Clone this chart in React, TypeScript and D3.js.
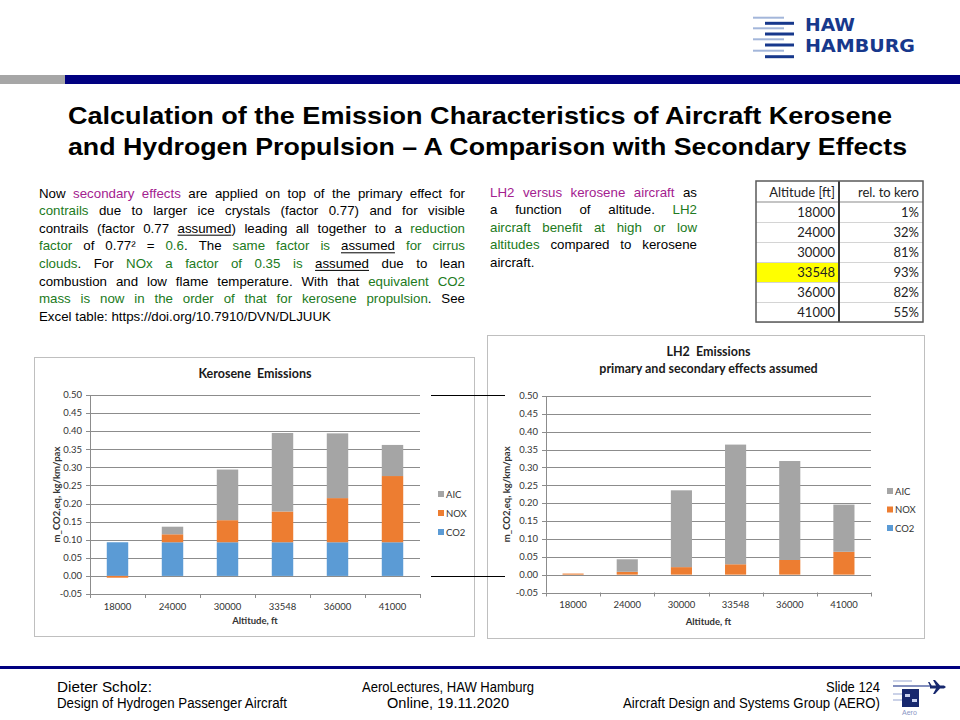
import * as d3 from 'd3'
import React from 'react'

// chart values
const altitudes = ['18000', '24000', '30000', '33548', '36000', '41000']
const keroCO2 = [0.093, 0.093, 0.093, 0.093, 0.093, 0.093]
const keroNOX = [-0.005, 0.022, 0.061, 0.085, 0.122, 0.183]
const keroAIC = [0, 0.021, 0.14, 0.217, 0.179, 0.086]
const lh2CO2 = [0, 0, 0, 0, 0, 0]
const lh2NOX = [0.003, 0.008, 0.021, 0.029, 0.041, 0.064]
const lh2AIC = [0, 0.035, 0.215, 0.335, 0.277, 0.132]
const relToKero = ['1%', '32%', '81%', '93%', '82%', '55%']
const seriesKeys = ['CO2', 'NOX', 'AIC']
const seriesColors: Record<string, string> = { CO2: '#5b9bd5', NOX: '#ed7d31', AIC: '#a5a5a5' }

const NAVY = '#000080'
const PURPLE = '#a3218f'
const GREEN = '#217a21'
const SANS = '"Liberation Sans", Arial, sans-serif'
const CHART_FONT = 'Lato, "Liberation Sans", sans-serif'

type Run = { t: string, c: string, u?: boolean }
const k = (t: string): Run => ({ t, c: '#000' })
const p = (t: string): Run => ({ t, c: PURPLE })
const g = (t: string): Run => ({ t, c: GREEN })
const u = (t: string): Run => ({ t, c: '#000', u: true })

const leftText: Run[][] = [
    [k('Now '), p('secondary effects'), k(' are applied on top of the primary effect for')],
    [g('contrails'), k(' due to larger ice crystals (factor 0.77) and for visible')],
    [k('contrails (factor 0.77 '), u('assumed'), k(') leading all together to a '), g('reduction')],
    [g('factor'), k(' of 0.77² = '), g('0.6'), k('. The '), g('same factor is'), k(' '), u('assumed'), k(' '), g('for cirrus')],
    [g('clouds'), k('. For '), g('NOx a factor of 0.35 is'), k(' '), u('assumed'), k(' due to lean')],
    [k('combustion and low flame temperature. With that '), g('equivalent CO2')],
    [g('mass is now in the order of that for kerosene propulsion'), k('. See')],
    [k('Excel table: https://doi.org/10.7910/DVN/DLJUUK')],
]
const rightText: Run[][] = [
    [p('LH2 versus kerosene aircraft'), k(' as')],
    [k('a function of altitude. '), g('LH2')],
    [g('aircraft benefit at high or low')],
    [g('altitudes'), k(' compared to kerosene')],
    [k('aircraft.')],
]

const ctx = document.createElement('canvas').getContext('2d')!
const measure = (s: string, font: string) => { ctx.font = font; return ctx.measureText(s).width }

function Paragraph({ lines, x, y, width, lh, size }: { lines: Run[][], x: number, y: number, width: number, lh: number, size: number }) {
    const font = `${size}px "Liberation Sans"`
    const out: any[] = []
    lines.forEach((runs, li) => {
        const words: Run[][] = []
        let cur: Run[] = []
        runs.forEach(r => {
            r.t.split(' ').forEach((part, i) => {
                if (i > 0) { if (cur.length) words.push(cur); cur = [] }
                if (part) cur.push({ ...r, t: part })
            })
        })
        if (cur.length) words.push(cur)
        const ww = words.map(w => d3.sum(w, r => measure(r.t, font)))
        const last = li === lines.length - 1
        const gap = last || words.length < 2 ? measure(' ', font) : (width - d3.sum(ww)) / (words.length - 1)
        let xx = x
        const yy = y + li * lh
        words.forEach((w, wi) => {
            w.forEach((r, ri) => {
                const rw = measure(r.t, font)
                out.push(<text key={`${li}-${wi}-${ri}`} x={xx} y={yy} fill={r.c}>{r.t}</text>)
                if (r.u) out.push(<line key={`u${li}-${wi}-${ri}`} x1={xx} x2={xx + rw} y1={yy + 2.5} y2={yy + 2.5} stroke="#000" strokeWidth={1} />)
                xx += rw
            })
            xx += gap
        })
    })
    return <g fontFamily={SANS} fontSize={size}>{out}</g>
}

type Box = { x: number, y: number, w: number, h: number }
type Plot = { l: number, r: number, t: number, b: number }

function yScaleFor(plot: Plot) {
    return d3.scaleLinear().domain([-0.05, 0.5]).range([plot.b, plot.t])
}

function Chart({ box, plot, titles, titleY, co2, nox, aic, legendX, legendY, yLabelX, catY, axisTitleY }: {
    box: Box, plot: Plot, titles: string[], titleY: number[], co2: number[], nox: number[], aic: number[],
    legendX: number, legendY: number[], yLabelX: number, catY: number, axisTitleY: number
}) {
    const x = d3.scaleBand().domain(altitudes).range([plot.l, plot.r])
    const y = yScaleFor(plot)
    const rows = altitudes.map((a, i) => ({ alt: a, CO2: co2[i], NOX: nox[i], AIC: aic[i] }))
    const stacked = d3.stack<any>().keys(seriesKeys).offset(d3.stackOffsetDiverging)(rows)
    const barW = x.bandwidth() * 0.39
    const ticks = y.ticks(11)
    const fmt = (t: number) => (Math.abs(t) < 1e-9 ? 0 : t).toFixed(2)
    const cx = (plot.l + plot.r) / 2
    const boundaries = [...altitudes.map(a => x(a)!), plot.r]
    return (
        <g fontFamily={CHART_FONT}>
            <rect x={box.x + 0.5} y={box.y + 0.5} width={box.w} height={box.h} fill="#fff" stroke="#bfbfbf" />
            {titles.map((t, i) => (
                <text key={t} x={cx} y={titleY[i]} textAnchor="middle" fontSize={12.5} fontWeight="bold" fill="#1a1a1a" style={{ whiteSpace: 'pre' }}>{t}</text>
            ))}
            {ticks.map(t => (
                <g key={t}>
                    <line x1={plot.l - 4} x2={plot.r} y1={Math.round(y(t)) + 0.5} y2={Math.round(y(t)) + 0.5} stroke="#8c8c8c" />
                    <text x={plot.l - 8} y={y(t) + 3.3} textAnchor="end" fontSize={9.5} fill="#333">{fmt(t)}</text>
                </g>
            ))}
            <line x1={plot.l + 0.5} x2={plot.l + 0.5} y1={plot.t} y2={plot.b} stroke="#8c8c8c" />
            {boundaries.map((b, i) => (
                <line key={i} x1={Math.round(b) + 0.5} x2={Math.round(b) + 0.5} y1={plot.b} y2={plot.b + 4} stroke="#8c8c8c" />
            ))}
            {stacked.map(s => (
                <g key={s.key} fill={seriesColors[s.key]}>
                    {s.map((d, i) => {
                        const y0 = y(d[0]), y1 = y(d[1])
                        const h = Math.abs(y0 - y1)
                        if (h <= 0) return null
                        return <rect key={i} x={x(altitudes[i])! + (x.bandwidth() - barW) / 2} y={Math.min(y0, y1)} width={barW} height={h} />
                    })}
                </g>
            ))}
            {altitudes.map(a => (
                <text key={a} x={x(a)! + x.bandwidth() / 2} y={catY} textAnchor="middle" fontSize={9.5} fill="#333">{a}</text>
            ))}
            <text x={cx} y={axisTitleY} textAnchor="middle" fontSize={9.5} fontWeight="bold" fill="#333">Altitude, ft</text>
            <text transform={`translate(${yLabelX},${(plot.t + plot.b) / 2}) rotate(-90)`} textAnchor="middle" fontSize={9.5} fontWeight="bold" fill="#333">m_CO2,eq, kg/km/pax</text>
            {['AIC', 'NOX', 'CO2'].map((s, i) => (
                <g key={s}>
                    <rect x={legendX} y={legendY[i] - 3} width={6} height={6} fill={seriesColors[s]} />
                    <text x={legendX + 8} y={legendY[i] + 3.5} fontSize={9.5} fill="#333">{s}</text>
                </g>
            ))}
        </g>
    )
}

function Table() {
    const x0 = 756, x1 = 839, x2 = 923, y0 = 181, hh = 21, rh = 20
    const y1 = y0 + hh + altitudes.length * rh
    return (
        <g fontFamily={CHART_FONT} fontSize={13} fill="#222">
            <rect x={x0} y={y0 + hh + 3 * rh} width={x1 - x0} height={rh} fill="#ffff00" />
            {altitudes.map((a, i) => (
                <g key={a}>
                    <line x1={x0} x2={x2} y1={y0 + hh + (i + 1) * rh + 0.5} y2={y0 + hh + (i + 1) * rh + 0.5} stroke="#d4d4d4" />
                    <text x={x1 - 4} y={y0 + hh + i * rh + 15} textAnchor="end">{a}</text>
                    <text x={x2 - 4} y={y0 + hh + i * rh + 15} textAnchor="end">{relToKero[i]}</text>
                </g>
            ))}
            <line x1={x0} x2={x2} y1={y0 + hh} y2={y0 + hh} stroke="#8a8a8a" strokeWidth={1.2} />
            <text x={x1 - 4} y={y0 + 15.5} textAnchor="end">Altitude [ft]</text>
            <text x={x2 - 4} y={y0 + 15.5} textAnchor="end">rel. to kero</text>
            <line x1={x1} x2={x1} y1={y0} y2={y1} stroke="#3a3a3a" strokeWidth={2} />
            <rect x={x0} y={y0} width={x2 - x0} height={y1 - y0} fill="none" stroke="#5a5a5a" strokeWidth={1.5} />
        </g>
    )
}

function HawLogo() {
    const light = [17.7, 28.3, 39.3, 50.7]
    const dark = [23.3, 34, 45, 56.7]
    return (
        <g>
            {light.map(v => <line key={v} x1={753} x2={784} y1={v} y2={v} stroke="#a3b6da" strokeWidth={2} />)}
            {dark.map(v => <line key={v} x1={765} x2={794} y1={v} y2={v} stroke="#17388c" strokeWidth={3} />)}
            <g fontFamily='"DejaVu Sans", sans-serif' fontWeight="bold" fontSize={18} fill="#17388c">
                <text x={805} y={31} textLength={50} lengthAdjust="spacingAndGlyphs">HAW</text>
                <text x={805} y={52} textLength={110} lengthAdjust="spacingAndGlyphs">HAMBURG</text>
            </g>
        </g>
    )
}

function AeroLogo() {
    return (
        <g>
            {[681, 686, 694, 700].map((v, i) => (
                <line key={v} x1={893} x2={i === 1 ? 930 : 912} y1={v} y2={v} stroke={i === 1 ? '#5a6aa8' : '#a8b4d8'} strokeWidth={i === 1 ? 1.5 : 1.2} />
            ))}
            <rect x={902} y={689} width={17} height={18} fill="#17286e" />
            <rect x={905} y={694} width={5} height={3} fill="#c8d0ee" />
            <rect x={912} y={699} width={5} height={3} fill="#c8d0ee" />
            <path d="M930,685.5 L944,685.5 L946,687 L944,688.5 L930,688.5 Z M936,685.5 L933,680 L935,680 L940,685.5 Z M936,688.5 L933,694 L935,694 L940,688.5 Z M930,686 L928,682 L929.5,682 L932,686 Z" fill="#17286e" />
            <text x={902} y={715} fontFamily={SANS} fontSize={7} fill="#8a96c4">Aero</text>
        </g>
    )
}

export default function App() {
    const leftPlot = { l: 90, r: 420, t: 395, b: 594 }
    const rightPlot = { l: 546, r: 871, t: 396, b: 592.5 }
    const yl = yScaleFor(leftPlot)
    return (
        <svg width={960} height={720} viewBox="0 0 960 720" style={{ position: 'absolute', left: 0, top: 0, display: 'block', background: '#fff' }}>
            <rect width={960} height={720} fill="#fff" />
            <HawLogo />
            <rect x={0} y={75} width={65} height={9} fill="#a6a6a6" />
            <rect x={65} y={75} width={895} height={9} fill={NAVY} />
            <g fontFamily={SANS} fontWeight="bold" fontSize={24} fill="#000">
                <text x={68} y={124} textLength={824} lengthAdjust="spacingAndGlyphs">Calculation of the Emission Characteristics of Aircraft Kerosene</text>
                <text x={68} y={155} textLength={839} lengthAdjust="spacingAndGlyphs">and Hydrogen Propulsion – A Comparison with Secondary Effects</text>
            </g>
            <Paragraph lines={leftText} x={39} y={197.5} width={426} lh={17.6} size={13.3} />
            <Paragraph lines={rightText} x={490} y={196.7} width={207} lh={17.5} size={13.3} />
            <Table />
            <Chart box={{ x: 34, y: 357, w: 440, h: 279 }} plot={leftPlot} titles={['Kerosene  Emissions']} titleY={[378]}
                co2={keroCO2} nox={keroNOX} aic={keroAIC} legendX={438} legendY={[494, 513, 532]} yLabelX={60} catY={610} axisTitleY={624} />
            <Chart box={{ x: 487, y: 335, w: 437, h: 303 }} plot={rightPlot} titles={['LH2  Emissions', 'primary and secondary effects assumed']} titleY={[356, 373]}
                co2={lh2CO2} nox={lh2NOX} aic={lh2AIC} legendX={887} legendY={[491, 509.5, 528]} yLabelX={510} catY={608} axisTitleY={625} />
            {[0.5, 0].map(v => (
                <line key={v} x1={431} x2={505} y1={Math.round(yl(v)) + 0.5} y2={Math.round(yl(v)) + 0.5} stroke="#000" />
            ))}
            <rect x={0} y={666} width={960} height={3} fill={NAVY} />
            <g fontFamily='"Liberation Sans Narrow", "Liberation Sans", sans-serif' fontSize={14} fill="#000">
                <text x={57} y={692} textLength={95} lengthAdjust="spacingAndGlyphs">Dieter Scholz:</text>
                <text x={57} y={708} textLength={230} lengthAdjust="spacingAndGlyphs">Design of Hydrogen Passenger Aircraft</text>
                <text x={362} y={692} textLength={172} lengthAdjust="spacingAndGlyphs">AeroLectures, HAW Hamburg</text>
                <text x={387} y={708} textLength={122} lengthAdjust="spacingAndGlyphs">Online, 19.11.2020</text>
                <text x={826} y={692} textLength={54} lengthAdjust="spacingAndGlyphs">Slide 124</text>
                <text x={623} y={708} textLength={257} lengthAdjust="spacingAndGlyphs">Aircraft Design and Systems Group (AERO)</text>
            </g>
            <AeroLogo />
        </svg>
    )
}
